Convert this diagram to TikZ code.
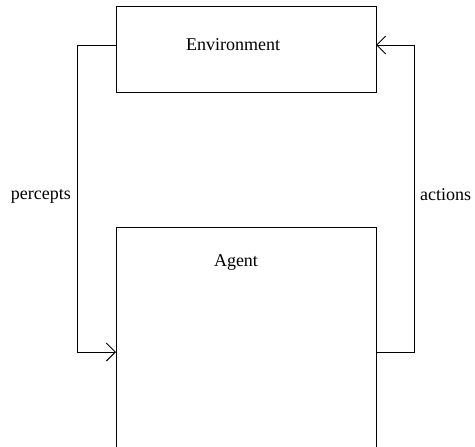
\documentclass[tikz,border=0pt]{standalone}
\usepackage{fontspec}
\setmainfont{Liberation Serif}
\usetikzlibrary{arrows.meta}
\begin{document}
\begin{tikzpicture}[x=1pt,y=-1pt,
  box/.style={draw,line width=1pt},
  conn/.style={draw,line width=1pt,-{Straight Barb[length=9pt,width=18pt,line width=1pt]}},
  lbl/.style={font=\fontsize{18}{20}\selectfont,inner sep=0pt}]
\useasboundingbox (0,0) rectangle (475,447);
\draw[box] (116,6) rectangle (376,92);
\node[lbl,anchor=base] (envtext) at (233,50) {Environment};
\coordinate (envL) at (116,45);
\coordinate (envR) at (376,45);
\draw[box] (116,450) -- (116,227) -- (376,227) -- (376,450);
\node[lbl,anchor=base] (agenttext) at (236,266.5) {Agent};
\coordinate (agL) at (116,352);
\coordinate (agR) at (376,352);
\draw[conn] (envL) -- (77,45) -- (77,352) -- (agL);
\draw[conn] (agR) -- (414,352) -- (414,45) -- (envR);
\node[lbl,anchor=base east] (perc) at (71,199) {percepts};
\node[lbl,anchor=base west] (act) at (420,200) {actions};
\end{tikzpicture}
\end{document}
